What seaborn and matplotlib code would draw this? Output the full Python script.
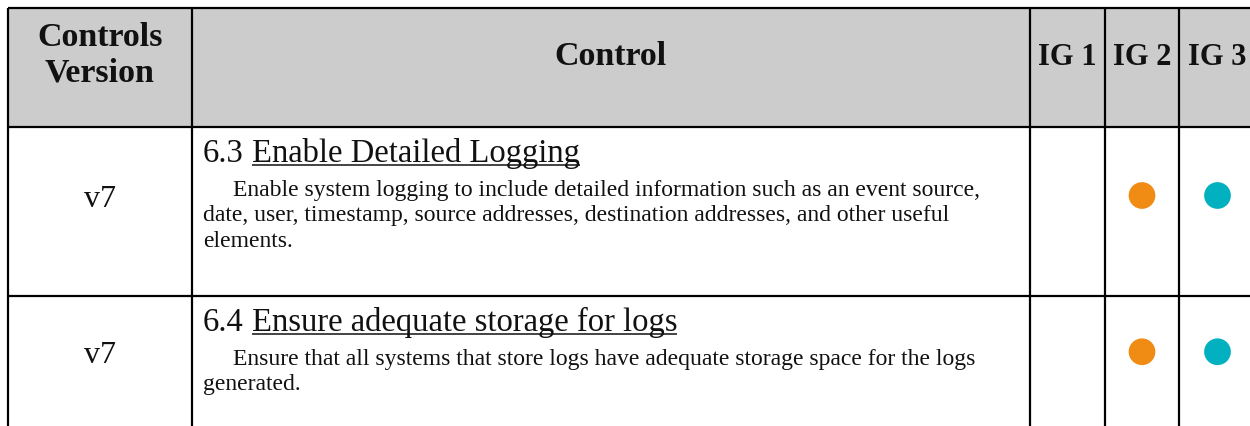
import matplotlib
matplotlib.use("Agg")
import matplotlib.pyplot as plt
from matplotlib.patches import Rectangle
import pandas as pd
import seaborn as sns

# ---------------- data ----------------
header_labels = ["Controls\nVersion", "Control", "IG 1", "IG 2", "IG 3"]
versions = ["v7", "v7"]
control_ids = ["6.3", "6.4"]
control_titles = ["Enable Detailed Logging", "Ensure adequate storage for logs"]
control_desc = [
    ["Enable system logging to include detailed information such as an event source,",
     "date, user, timestamp, source addresses, destination addresses, and other useful",
     "elements."],
    ["Ensure that all systems that store logs have adequate storage space for the logs",
     "generated."],
]
ig1 = [False, False]
ig2 = [True, True]
ig3 = [True, True]
ig_colors = {"IG 1": "#3f6fb6", "IG 2": "#f08c13", "IG 3": "#01b1bf"}

# ---------------- layout (pixels) ----------------
W, H = 1250, 427
col_edges = [8, 192, 1030, 1105, 1179, 1256]
row_edges = [9, 128, 297, 440]
header_bg = "#cccccc"
lw = 1.6

sns.set_theme(style="white")
plt.rcParams["font.family"] = ["Liberation Serif", "DejaVu Serif"]

fig = plt.figure(figsize=(W / 100, H / 100), dpi=100)
ax = fig.add_axes([0, 0, 1, 1])
ax.set_xlim(0, W)
ax.set_ylim(H, 0)
ax.axis("off")

# header background
ax.add_patch(Rectangle((col_edges[0], row_edges[0]), col_edges[-1] - col_edges[0],
                       row_edges[1] - row_edges[0], facecolor=header_bg,
                       edgecolor="none", zorder=0))

# grid lines
for y in row_edges[:-1]:
    ax.plot([col_edges[0], col_edges[-1]], [y, y], color="black", lw=lw,
            solid_capstyle="butt", zorder=3)
for x in col_edges:
    ax.plot([x, x], [row_edges[0], row_edges[-1]], color="black", lw=lw,
            solid_capstyle="butt", zorder=3)

col_centers = [(col_edges[i] + col_edges[i + 1]) / 2 for i in range(len(col_edges) - 1)]

# header text
for i, lab in enumerate(header_labels):
    lines = lab.split("\n")
    fs = 22 if lab.startswith("IG") else 24.5
    baselines = [46, 81] if len(lines) == 2 else [65]
    for ln, yb in zip(lines, baselines):
        ax.text(col_centers[i], yb, ln, ha="center", va="baseline",
                fontsize=fs, fontweight="bold", color="#111111")

fig.canvas.draw()
renderer = fig.canvas.get_renderer()
inv = ax.transData.inverted()


def extent_x(t):
    bb = t.get_window_extent(renderer=renderer)
    (x0, _), (x1, _) = inv.transform([(bb.x0, bb.y0), (bb.x1, bb.y1)])
    return x0, x1


title_fs = 23.5
desc_fs = 17
text_left = col_edges[1] + 11
indent = 30
points = []
for r in range(len(versions)):
    top = row_edges[r + 1]
    title_base = top + 34
    desc_base0 = title_base + 34
    line_gap = 25.5
    # control number + underlined title
    tn = ax.text(text_left, title_base, control_ids[r], ha="left", va="baseline",
                 fontsize=title_fs, color="#111111")
    _, nx1 = extent_x(tn)
    tx = nx1 + 8
    tt = ax.text(tx, title_base, control_titles[r], ha="left", va="baseline",
                 fontsize=title_fs, color="#111111")
    tx0, tx1 = extent_x(tt)
    ax.plot([tx, tx1], [title_base + 4, title_base + 4], color="#111111", lw=1.1,
            solid_capstyle="butt")
    last_base = desc_base0
    for k, ln in enumerate(control_desc[r]):
        yb = desc_base0 + k * line_gap
        last_base = yb
        ax.text(text_left + (indent if k == 0 else 0), yb, ln, ha="left",
                va="baseline", fontsize=desc_fs, color="#111111")
    center = (title_base - 20 + last_base) / 2 + 2
    ax.text(col_centers[0], center + 10.5, versions[r], ha="center", va="baseline",
            fontsize=23, color="#111111")
    for name, flags, ci in (("IG 1", ig1, 2), ("IG 2", ig2, 3), ("IG 3", ig3, 4)):
        if flags[r]:
            points.append({"x": col_centers[ci], "y": center, "ig": name})

df = pd.DataFrame(points)
sns.scatterplot(data=df, x="x", y="y", hue="ig", palette=ig_colors, s=370,
                edgecolor="none", legend=False, ax=ax, zorder=4)
ax.set_xlim(0, W)
ax.set_ylim(H, 0)
ax.axis("off")

fig.savefig("out.png", dpi=100, facecolor="white")
